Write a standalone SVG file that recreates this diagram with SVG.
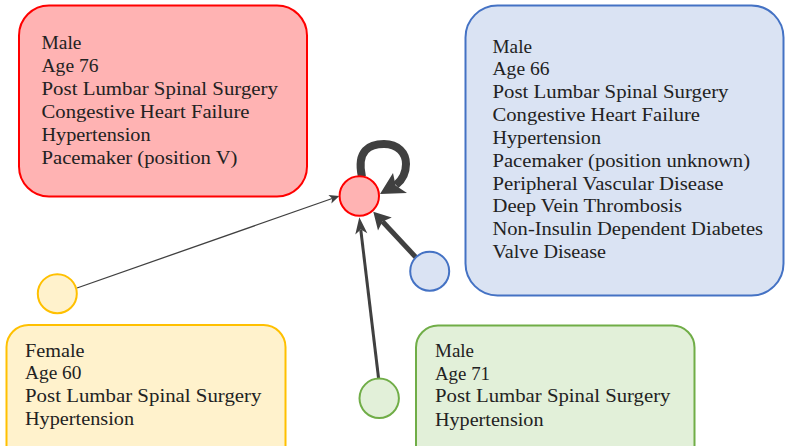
<svg xmlns="http://www.w3.org/2000/svg" width="785" height="446" viewBox="0 0 785 446">
<style>
.t{font-family:"Liberation Serif","DejaVu Serif",serif;font-size:18px;fill:#222}
.edge{fill:none;stroke:#404040;stroke-linecap:butt}
.head{fill:#404040;stroke:none}
.red{fill:#FFB3B3;stroke:#FF0000;stroke-width:2}
.blue{fill:#DAE3F3;stroke:#4472C4;stroke-width:2}
.yellow{fill:#FFF2CC;stroke:#FFC000;stroke-width:2}
.green{fill:#E2F0D9;stroke:#70AD47;stroke-width:2}
</style>
<rect width="785" height="446" fill="#fff"/>
<g id="box-red">
<rect class="red" x="19" y="5.5" width="288" height="191" rx="30"/>
<text class="t" x="41.5" y="49" textLength="40" lengthAdjust="spacingAndGlyphs">Male</text>
<text class="t" x="41.5" y="71.9" textLength="57" lengthAdjust="spacingAndGlyphs">Age 76</text>
<text class="t" x="41.5" y="94.8" textLength="236.5" lengthAdjust="spacingAndGlyphs">Post Lumbar Spinal Surgery</text>
<text class="t" x="41.5" y="117.7" textLength="208" lengthAdjust="spacingAndGlyphs">Congestive Heart Failure</text>
<text class="t" x="41.5" y="140.6" textLength="109" lengthAdjust="spacingAndGlyphs">Hypertension</text>
<text class="t" x="41.5" y="163.5" textLength="196" lengthAdjust="spacingAndGlyphs">Pacemaker (position V)</text>
</g>
<g id="box-blue">
<rect class="blue" x="465.5" y="5.5" width="318" height="290" rx="32"/>
<text class="t" x="492.5" y="52.5" textLength="39.5" lengthAdjust="spacingAndGlyphs">Male</text>
<text class="t" x="492.5" y="75.3" textLength="57" lengthAdjust="spacingAndGlyphs">Age 66</text>
<text class="t" x="492.5" y="98.2" textLength="236" lengthAdjust="spacingAndGlyphs">Post Lumbar Spinal Surgery</text>
<text class="t" x="492.5" y="121" textLength="207.5" lengthAdjust="spacingAndGlyphs">Congestive Heart Failure</text>
<text class="t" x="492.5" y="144" textLength="108.5" lengthAdjust="spacingAndGlyphs">Hypertension</text>
<text class="t" x="492.5" y="166.8" textLength="257.5" lengthAdjust="spacingAndGlyphs">Pacemaker (position unknown)</text>
<text class="t" x="492.5" y="189.6" textLength="231" lengthAdjust="spacingAndGlyphs">Peripheral Vascular Disease</text>
<text class="t" x="492.5" y="212.4" textLength="189.5" lengthAdjust="spacingAndGlyphs">Deep Vein Thrombosis</text>
<text class="t" x="492.5" y="235.3" textLength="270.5" lengthAdjust="spacingAndGlyphs">Non-Insulin Dependent Diabetes</text>
<text class="t" x="492.5" y="258.2" textLength="113.5" lengthAdjust="spacingAndGlyphs">Valve Disease</text>
</g>
<g id="box-yellow">
<rect class="yellow" x="6.5" y="325" width="279" height="150" rx="22"/>
<text class="t" x="25" y="356.7" textLength="59.5" lengthAdjust="spacingAndGlyphs">Female</text>
<text class="t" x="25" y="379.4" textLength="56.5" lengthAdjust="spacingAndGlyphs">Age 60</text>
<text class="t" x="25" y="402" textLength="236.5" lengthAdjust="spacingAndGlyphs">Post Lumbar Spinal Surgery</text>
<text class="t" x="25" y="425" textLength="109" lengthAdjust="spacingAndGlyphs">Hypertension</text>
</g>
<g id="box-green">
<rect class="green" x="416" y="325.5" width="278.5" height="150" rx="22"/>
<text class="t" x="435" y="357.3" textLength="39" lengthAdjust="spacingAndGlyphs">Male</text>
<text class="t" x="435" y="380" textLength="55" lengthAdjust="spacingAndGlyphs">Age 71</text>
<text class="t" x="435" y="402.2" textLength="235.5" lengthAdjust="spacingAndGlyphs">Post Lumbar Spinal Surgery</text>
<text class="t" x="435" y="425.8" textLength="108.5" lengthAdjust="spacingAndGlyphs">Hypertension</text>
</g>
<g id="connectors">
<line class="edge" x1="77" y1="288" x2="332.2" y2="198.5" stroke-width="1.3"/>
<polygon class="head" points="339.3,196 331.4,203.5 332.2,198.5 328.4,195.1"/>
<line class="edge" x1="378.6" y1="378.5" x2="360.8" y2="230" stroke-width="3"/>
<polygon class="head" points="359.3,217.3 367.3,233.2 360.8,229.5 355.3,234.6"/>
<line class="edge" x1="416.5" y1="258" x2="382.5" y2="221.5" stroke-width="5"/>
<polygon class="head" points="373.3,211.7 391.8,217.6 382.5,221.5 378,230.6"/>
<path class="edge" d="M362,177 C356,150 370,144 384,144 C398,144 406,153 406,164 C406,174 401,181 396,185" stroke-width="8"/>
<polygon class="head" points="380,194 393,173 395.6,185.4 407,193"/>
</g>
<g id="node-center"><circle class="red" cx="359.3" cy="196" r="19.7"/></g>
<g id="node-blue"><circle class="blue" cx="429.7" cy="271.2" r="19.5"/></g>
<g id="node-yellow"><circle class="yellow" cx="57.3" cy="293.7" r="19.5"/></g>
<g id="node-green"><circle class="green" cx="379.2" cy="398.3" r="19.7"/></g>
</svg>
